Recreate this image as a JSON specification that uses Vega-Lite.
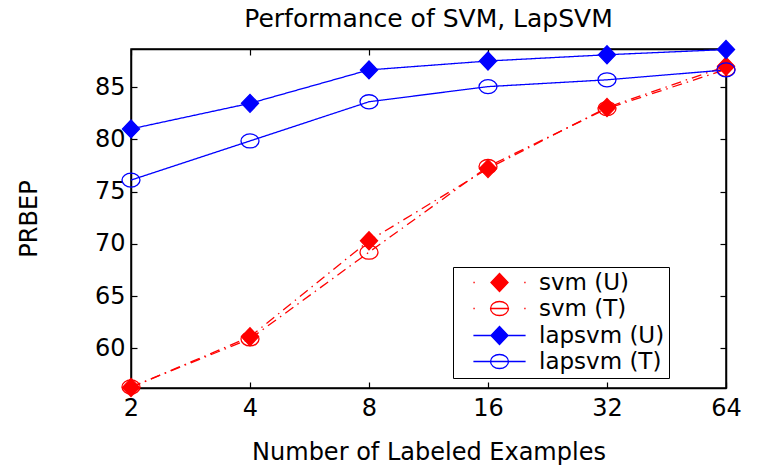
{
  "$schema": "https://vega.github.io/schema/vega-lite/v6.json",
  "width": 595,
  "height": 339,
  "autosize": {"type": "none"},
  "padding": {"left": 131, "top": 49, "right": 35, "bottom": 78},
  "background": "white",
  "title": {"text": "Performance of SVM, LapSVM", "font": "DejaVu Sans", "fontSize": 25, "fontWeight": "normal", "color": "black", "anchor": "middle", "offset": 6},
  "config": {
    "view": {"stroke": "black", "strokeWidth": 1.5},
    "axis": {"labelFont": "DejaVu Sans", "titleFont": "DejaVu Sans", "labelFontSize": 24, "titleFontSize": 24, "titleFontWeight": "normal", "labelColor": "black", "titleColor": "black", "tickColor": "black", "domainColor": "black", "domainWidth": 1.5, "tickWidth": 1.2, "grid": false, "labelOverlap": false, "labelFlush": false},
    "legend": {
      "orient": "none", "legendX": 322, "legendY": 218, "title": null,
      "strokeColor": "#000000", "fillColor": "#ffffff", "padding": 4,
      "labelFont": "DejaVu Sans", "labelFontSize": 23, "labelColor": "#000000", "labelLimit": 400,
      "symbolSize": 324, "symbolOffset": 31, "labelOffset": 28, "rowPadding": 2, "symbolStrokeWidth": 1.3
    }
  },
  "data": {"values": [
    {"series": "svm (U)", "method": "svm", "set": "U", "n": 2, "prbep": 56.25},
    {"series": "svm (U)", "method": "svm", "set": "U", "n": 4, "prbep": 61.1},
    {"series": "svm (U)", "method": "svm", "set": "U", "n": 8, "prbep": 70.3},
    {"series": "svm (U)", "method": "svm", "set": "U", "n": 16, "prbep": 77.2},
    {"series": "svm (U)", "method": "svm", "set": "U", "n": 32, "prbep": 83.05},
    {"series": "svm (U)", "method": "svm", "set": "U", "n": 64, "prbep": 87.0},
    {"series": "svm (T)", "method": "svm", "set": "T", "n": 2, "prbep": 56.3},
    {"series": "svm (T)", "method": "svm", "set": "T", "n": 4, "prbep": 60.9},
    {"series": "svm (T)", "method": "svm", "set": "T", "n": 8, "prbep": 69.2},
    {"series": "svm (T)", "method": "svm", "set": "T", "n": 16, "prbep": 77.4},
    {"series": "svm (T)", "method": "svm", "set": "T", "n": 32, "prbep": 82.95},
    {"series": "svm (T)", "method": "svm", "set": "T", "n": 64, "prbep": 86.7},
    {"series": "lapsvm (U)", "method": "lapsvm", "set": "U", "n": 2, "prbep": 81.0},
    {"series": "lapsvm (U)", "method": "lapsvm", "set": "U", "n": 4, "prbep": 83.45},
    {"series": "lapsvm (U)", "method": "lapsvm", "set": "U", "n": 8, "prbep": 86.65},
    {"series": "lapsvm (U)", "method": "lapsvm", "set": "U", "n": 16, "prbep": 87.5},
    {"series": "lapsvm (U)", "method": "lapsvm", "set": "U", "n": 32, "prbep": 88.1},
    {"series": "lapsvm (U)", "method": "lapsvm", "set": "U", "n": 64, "prbep": 88.6},
    {"series": "lapsvm (T)", "method": "lapsvm", "set": "T", "n": 2, "prbep": 76.1},
    {"series": "lapsvm (T)", "method": "lapsvm", "set": "T", "n": 4, "prbep": 79.85},
    {"series": "lapsvm (T)", "method": "lapsvm", "set": "T", "n": 8, "prbep": 83.6},
    {"series": "lapsvm (T)", "method": "lapsvm", "set": "T", "n": 16, "prbep": 85.05},
    {"series": "lapsvm (T)", "method": "lapsvm", "set": "T", "n": 32, "prbep": 85.7},
    {"series": "lapsvm (T)", "method": "lapsvm", "set": "T", "n": 64, "prbep": 86.65}
  ]},
  "layer": [
    {
      "mark": {"type": "line", "strokeWidth": 1.3},
      "encoding": {
        "x": {"field": "n", "type": "quantitative", "scale": {"type": "log", "base": 2, "domain": [2, 64], "nice": false},
              "axis": {"values": [2, 4, 8, 16, 32, 64], "tickSize": -6, "labelPadding": 14, "title": "Number of Labeled Examples", "titlePadding": 20, "format": "d"}},
        "y": {"field": "prbep", "type": "quantitative", "scale": {"domain": [56.2, 88.65], "nice": false, "zero": false},
              "axis": {"values": [60, 65, 70, 75, 80, 85], "tickSize": -6, "labelPadding": 12, "title": "PRBEP", "titlePadding": 53}},
        "color": {"field": "series", "type": "nominal", "scale": {"domain": ["svm (U)", "svm (T)", "lapsvm (U)", "lapsvm (T)"], "range": ["#ff0000", "#ff0000", "#0000ff", "#0000ff"]}},
        "detail": {"field": "series"},
        "strokeDash": {"field": "method", "type": "nominal", "scale": {"domain": ["svm", "lapsvm"], "range": [[10, 5, 1.5, 5], [1, 0]]}, "legend": null}
      }
    },
    {
      "transform": [{"filter": "datum.set === 'U'"}],
      "mark": {"type": "point", "strokeWidth": 1.3, "size": 324, "opacity": 1, "shape": "M0,-1L0.95,0L0,1L-0.95,0Z"},
      "encoding": {
        "x": {"field": "n", "type": "quantitative", "axis": {"orient": "top", "values": [2, 4, 8, 16, 32, 64], "tickSize": -6, "labels": false, "title": null}},
        "y": {"field": "prbep", "type": "quantitative", "axis": {"orient": "right", "values": [60, 65, 70, 75, 80, 85], "tickSize": -6, "labels": false, "title": null}},
        "color": {"field": "series", "type": "nominal"},
        "fill": {"field": "series", "type": "nominal", "scale": {"domain": ["svm (U)", "svm (T)", "lapsvm (U)", "lapsvm (T)"], "range": ["#ff0000", "transparent", "#0000ff", "transparent"]}}
      }
    },
    {
      "transform": [{"filter": "datum.set === 'T'"}],
      "mark": {"type": "point", "strokeWidth": 1.3, "size": 324, "opacity": 1, "shape": "M1,0A1,0.78 0 1,1 -1,0A1,0.78 0 1,1 1,0Z"},
      "encoding": {
        "x": {"field": "n", "type": "quantitative", "axis": null},
        "y": {"field": "prbep", "type": "quantitative", "axis": null},
        "color": {"field": "series", "type": "nominal"},
        "fill": {"field": "series", "type": "nominal"}
      }
    },
    {
      "transform": [{"filter": "false"}],
      "mark": {"type": "point", "strokeWidth": 1.3, "opacity": 1},
      "encoding": {
        "x": {"field": "n", "type": "quantitative", "axis": null},
        "y": {"field": "prbep", "type": "quantitative", "axis": null},
        "color": {"field": "series", "type": "nominal"},
        "fill": {"field": "series", "type": "nominal"},
        "shape": {"field": "series", "type": "nominal",
          "scale": {"domain": ["svm (U)", "svm (T)", "lapsvm (U)", "lapsvm (T)"], "range": [
            "M-2.9,0L-2.75,0M2.75,0L2.9,0M0,-1L0.95,0L0,1L-0.95,0Z",
            "M-2.9,0L-2.75,0M2.75,0L2.9,0M-1,0L1,0M1,0A1,0.78 0 1,1 -1,0A1,0.78 0 1,1 1,0Z",
            "M-2.9,0L2.9,0M0,-1L0.95,0L0,1L-0.95,0Z",
            "M-2.9,0L2.9,0M1,0A1,0.78 0 1,1 -1,0A1,0.78 0 1,1 1,0Z"]},
          "legend": {"labelExpr": "datum.label + '            '"}}
      }
    }
  ],
  "resolve": {"axis": {"x": "independent", "y": "independent"}}
}
